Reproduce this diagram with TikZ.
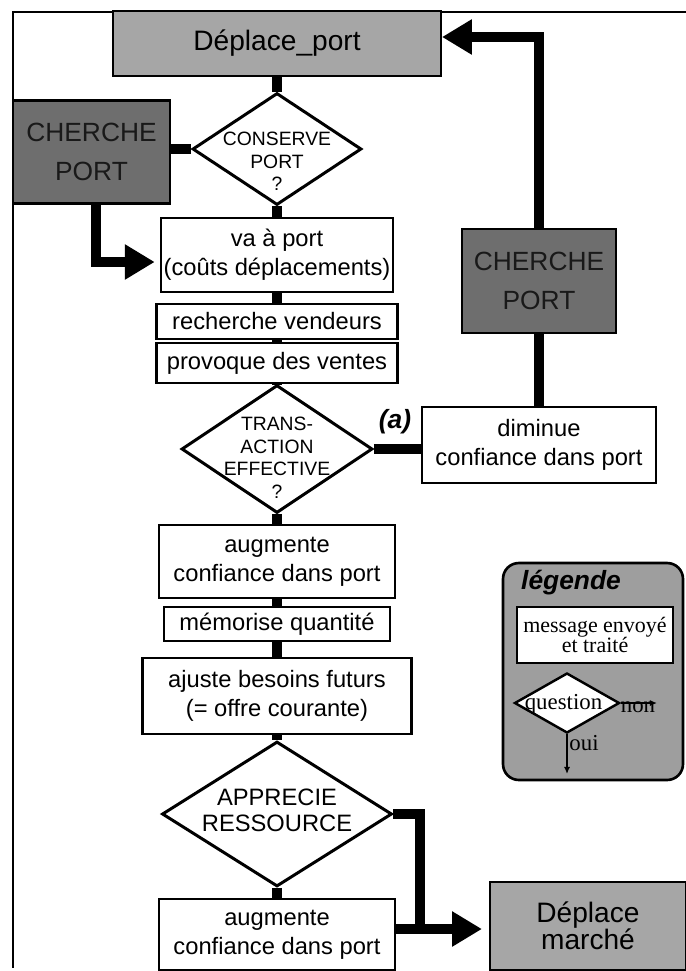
\documentclass[tikz,border=0pt]{standalone}
\usepackage{fontspec}
\setmainfont{Liberation Sans}
\newfontfamily\legserif{Liberation Serif}
\usetikzlibrary{shapes.geometric,arrows.meta}
\definecolor{grisclair}{gray}{0.65}
\definecolor{grisfonce}{gray}{0.43}
\definecolor{grislegende}{gray}{0.62}

\begin{document}
\begin{tikzpicture}[x=0.02cm,y=-0.02cm,
	boite/.style={draw,line width=1.2pt,fill=white,align=center,inner sep=0pt,font=\fontsize{13.5}{16.5}\selectfont},
	grise/.style={draw,line width=1.2pt,fill=grisclair,align=center,inner sep=0pt,font=\fontsize{16}{15.5}\selectfont},
	fonce/.style={draw,line width=1.2pt,fill=grisfonce,text=black!90,align=center,inner sep=0pt,font=\fontsize{15}{22.5}\selectfont},
	question/.style={diamond,draw,line width=1.7pt,fill=white,inner sep=0pt},
	qtexte/.style={font=\fontsize{11}{12.8}\selectfont,align=center},
	lien/.style={line width=5.5pt},
	fleche/.style={line width=5.5pt,-{Triangle[length=17pt,width=19pt]}},
	petite/.style={line width=0.9pt,-{Latex[length=4pt,width=3.5pt]}},
	legtexte/.style={font=\legserif\fontsize{13}{14}\selectfont,inner sep=0pt}]
	\useasboundingbox (0,0) rectangle (686,971);
	
	\draw[line width=1.1pt] (686,12) -- (13,12) -- (13,968);
	
	\node[grise,minimum width=6.56cm,minimum height=1.3cm] (deplport) at (277,43.5) {Déplace\_port};
	\node[fonce,minimum width=3.14cm,minimum height=2.06cm] (cherche1) at (91.5,152) {CHERCHE\\PORT};
	\node[question,minimum width=3.38cm,minimum height=2.24cm,label={[qtexte,yshift=-7pt]center:CONSERVE\\PORT\\?}] (conserve) at (277,149) {};
	\node[boite,minimum width=4.64cm,minimum height=1.48cm] (vaport) at (277,255) {va à port\\(coûts déplacements)};
	\node[boite,minimum width=4.82cm,minimum height=0.7cm] (recherche) at (277,321.5) {recherche vendeurs};
	\node[boite,minimum width=4.82cm,minimum height=0.8cm] (provoque) at (277,363) {provoque des ventes};
	\node[question,minimum width=3.82cm,minimum height=2.56cm,label={[qtexte,yshift=-5pt]center:TRANS-\\ACTION\\EFFECTIVE\\?}] (trans) at (277,449) {};
	\node[font=\fontsize{15}{18}\selectfont\bfseries\itshape] (etiqa) at (395,422) {(a)};
	\node[boite,minimum width=4.68cm,minimum height=1.52cm] (diminue) at (539,445) {diminue\\confiance dans port};
	\node[fonce,minimum width=3.08cm,minimum height=2.08cm] (cherche2) at (539,281) {CHERCHE\\PORT};
	\node[boite,minimum width=4.72cm,minimum height=1.46cm] (augm1) at (277,561.5) {augmente\\confiance dans port};
	\node[boite,minimum width=4.52cm,minimum height=0.68cm] (memor) at (277,624) {mémorise quantité};
	\node[boite,minimum width=5.38cm,minimum height=1.52cm] (ajuste) at (277,696) {ajuste besoins futurs\\(= offre courante)};
	\node[question,minimum width=4.6cm,minimum height=2.9cm,label={[qtexte,font=\fontsize{13.5}{14.5}\selectfont,yshift=2pt]center:APPRECIE\\RESSOURCE}] (apprec) at (277,814) {};
	\node[boite,minimum width=4.72cm,minimum height=1.42cm] (augm2) at (277,934.5) {augmente\\confiance dans port};
	\node[grise,minimum width=3.92cm,minimum height=1.76cm] (marche) at (588,926) {Déplace\\marché};
	
	\foreach \a/\b in {deplport/conserve,conserve/vaport,vaport/recherche,recherche/provoque,provoque/trans,trans/augm1,augm1/memor,memor/ajuste,ajuste/apprec,apprec/augm2}
	\draw[lien] (\a.south) -- (\b.north);
	\draw[lien] (cherche1.east |- conserve.west) -- (conserve.west);
	\draw[lien] (trans.east) -- (trans.east -| diminue.west);
	\draw[lien] (diminue.north) -- (cherche2.south);
	
	\coordinate (coude1) at (96,262);
	\coordinate (coude2) at (539,37);
	\coordinate (coude3) at (420,929);
	\draw[fleche,shorten >=3pt] (cherche1.south -| coude1) -- (coude1) -- (vaport.west |- coude1);
	\draw[fleche] (cherche2.north) -- (coude2) -- (deplport.east |- coude2);
	\draw[lien] (apprec.east) -| (coude3);
	\draw[fleche,shorten >=4pt] (augm2.east |- coude3) -- (marche.west |- coude3);
	
	\node[draw,line width=1.5pt,fill=grislegende,rounded corners=9pt,minimum width=3.6cm,minimum height=4.34cm] (legende) at (593,671.5) {};
	\node[anchor=west,font=\fontsize{15}{18}\selectfont\bfseries\itshape] (titre) at (515,583) {légende};
	\node[draw,line width=1.2pt,fill=white,align=center,inner sep=0pt,minimum width=3.12cm,minimum height=1.12cm,font=\legserif\fontsize{12.5}{11.5}\selectfont] (message) at (595,635) {message envoyé\\et traité};
	\node[question,line width=1.4pt,minimum width=2.1cm,minimum height=1.2cm,label={[legtexte,xshift=-2pt,yshift=-1pt]center:question}] (exquestion) at (567,703) {};
	\coordinate (exnon) at (657,703);
	\coordinate (exoui) at (567,774);
	\draw[petite] (exquestion.east) -- (exnon);
	\draw[petite] (exquestion.south) -- (exoui);
	\node[legtexte] (non) at (638,707) {non};
	\node[legtexte] (oui) at (584,743) {oui};
\end{tikzpicture}
\end{document}
